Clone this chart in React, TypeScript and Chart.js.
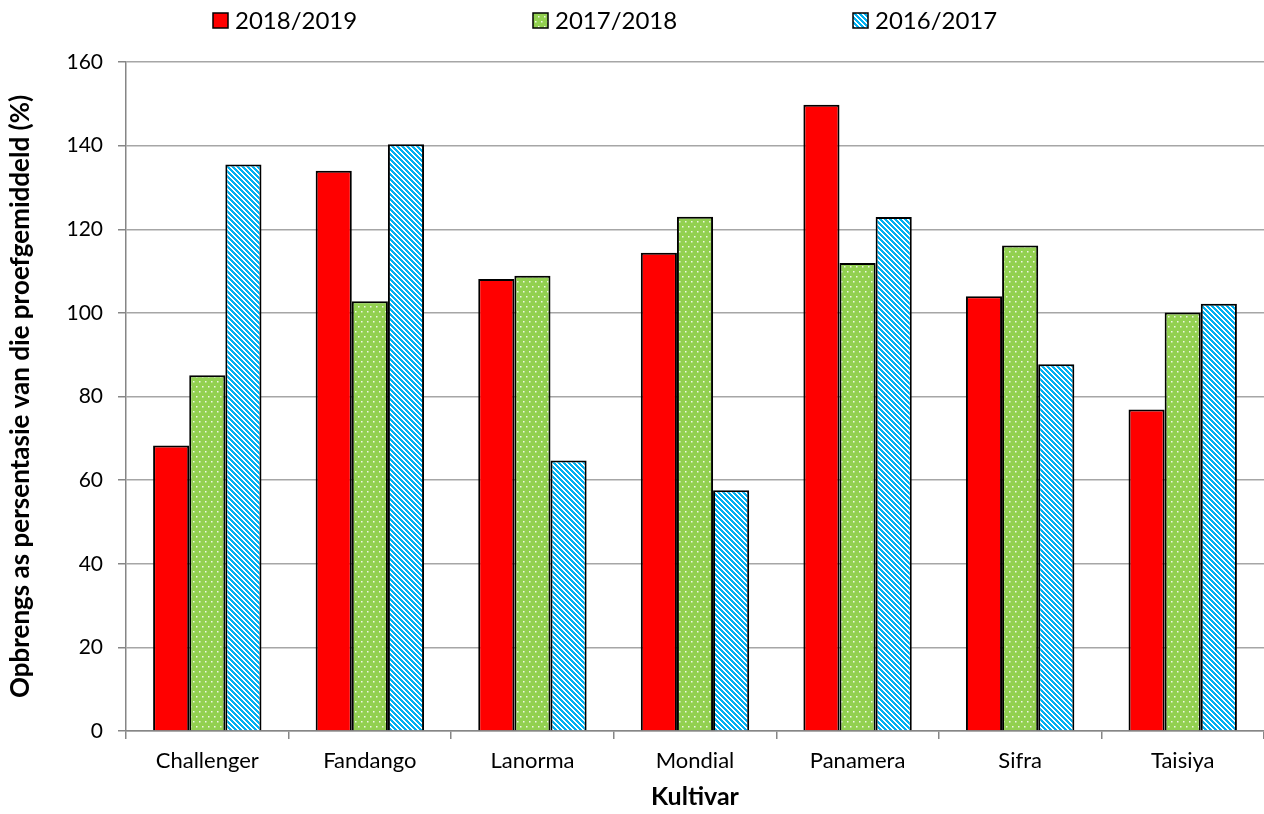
import React, { useEffect, useRef } from "react";
import { Chart, registerables } from "chart.js";

Chart.register(...registerables);

// Cultivars on the x axis
const cultivars = ["Challenger", "Fandango", "Lanorma", "Mondial", "Panamera", "Sifra", "Taisiya"];

// Yield as percentage of the trial mean, per season
const season1819 = [68.3, 134.0, 108.1, 114.4, 149.8, 104.0, 76.9];
const season1718 = [85.1, 102.8, 108.9, 123.0, 111.9, 116.1, 100.1];
const season1617 = [135.5, 140.3, 64.7, 57.6, 122.9, 87.7, 102.2];

const seasonLabels = ["2018/2019", "2017/2018", "2016/2017"];

const yTicks = [0, 20, 40, 60, 80, 100, 120, 140, 160];

const FONT = "Lato, 'Noto Sans', sans-serif";

function makeDotPattern(ctx: CanvasRenderingContext2D): CanvasPattern | string {
  const c = document.createElement("canvas");
  c.width = 6;
  c.height = 10;
  const g = c.getContext("2d");
  if (!g) return "#92D050";
  g.fillStyle = "#92D050";
  g.fillRect(0, 0, 6, 10);
  g.fillStyle = "rgba(255,255,255,0.85)";
  g.fillRect(1, 1, 1.5, 1.5);
  g.fillRect(4, 6, 1.5, 1.5);
  return ctx.createPattern(c, "repeat") || "#92D050";
}

function makeStripePattern(ctx: CanvasRenderingContext2D): CanvasPattern | string {
  const n = 5;
  const c = document.createElement("canvas");
  c.width = n;
  c.height = n;
  const g = c.getContext("2d");
  if (!g) return "#00B0F0";
  const img = g.createImageData(n, n);
  for (let y = 0; y < n; y++) {
    for (let x = 0; x < n; x++) {
      const i = (y * n + x) * 4;
      const on = (((x - y) % n) + n) % n < 3;
      img.data[i] = on ? 0 : 255;
      img.data[i + 1] = on ? 176 : 255;
      img.data[i + 2] = on ? 240 : 255;
      img.data[i + 3] = 255;
    }
  }
  g.putImageData(img, 0, 0);
  return ctx.createPattern(c, "repeat") || "#00B0F0";
}

// Legend row drawn above the plot area
const topLegend = {
  id: "topLegend",
  afterDraw(chart: any) {
    const ctx = chart.ctx as CanvasRenderingContext2D;
    const starts = [213, 533, 853];
    ctx.save();
    chart.data.datasets.forEach((ds: any, i: number) => {
      const x = starts[i];
      const y = 13;
      ctx.fillStyle = ds.backgroundColor;
      ctx.fillRect(x, y, 15, 15);
      ctx.lineWidth = 1.5;
      ctx.strokeStyle = "#000";
      ctx.strokeRect(x, y, 15, 15);
      ctx.fillStyle = "#000";
      ctx.font = `24px ${FONT}`;
      ctx.textBaseline = "middle";
      ctx.textAlign = "left";
      ctx.fillText(ds.label, x + 22, y + 8);
    });
    ctx.restore();
  },
};

export default function App() {
  const ref = useRef<HTMLCanvasElement | null>(null);

  useEffect(() => {
    document.body.style.margin = "0";
    const canvas = ref.current;
    if (!canvas) return;
    const ctx = canvas.getContext("2d");
    if (!ctx) return;

    const fills = ["#FF0000", makeDotPattern(ctx), makeStripePattern(ctx)];
    const series = [season1819, season1718, season1617];

    const chart = new Chart(ctx, {
      type: "bar",
      data: {
        labels: cultivars,
        datasets: series.map((values, i) => ({
          label: seasonLabels[i],
          data: values,
          backgroundColor: fills[i] as any,
          borderColor: "#000000",
          borderWidth: 2,
          barPercentage: 1,
          categoryPercentage: 2 / 3,
        })),
      },
      options: {
        responsive: false,
        animation: false,
        devicePixelRatio: 1,
        layout: { padding: { top: 62, left: 0, right: 0, bottom: 0 } },
        plugins: {
          legend: { display: false },
          tooltip: { enabled: false },
        },
        scales: {
          x: {
            afterFit: (scale: any) => {
              scale.height = 83;
            },
            grid: {
              display: true,
              drawOnChartArea: false,
              drawTicks: true,
              tickLength: 8,
              color: "#868686",
              lineWidth: 1.5,
              offset: true,
            },
            border: { color: "#868686", width: 1.5 },
            ticks: {
              color: "#000",
              padding: 9,
              font: { family: FONT, size: 22 },
            },
            title: {
              display: true,
              text: "Kultivar",
              color: "#000",
              font: { family: FONT, size: 25, weight: "bold" },
              padding: { top: 0, bottom: 2 },
            },
          },
          y: {
            min: 0,
            max: 160,
            afterFit: (scale: any) => {
              scale.width = 126;
            },
            afterBuildTicks: (scale: any) => {
              scale.ticks = yTicks.map((v) => ({ value: v }));
            },
            grid: {
              color: "#A6A6A6",
              lineWidth: 1.5,
              drawTicks: true,
              tickLength: 8,
              tickColor: "#868686",
            },
            border: { color: "#868686", width: 1.5 },
            ticks: {
              color: "#000",
              padding: 15,
              font: { family: FONT, size: 21 },
            },
            title: {
              display: true,
              text: "Opbrengs as persentasie van die proefgemiddeld (%)",
              color: "#000",
              font: { family: FONT, size: 26, weight: "bold" },
              padding: { top: 5, bottom: 0 },
            },
          },
        },
      },
      plugins: [topLegend],
    });

    return () => {
      chart.destroy();
    };
  }, []);

  return (
    <div style={{ position: "absolute", left: 0, top: 0, width: 1264, height: 814 }}>
      <canvas ref={ref} width={1264} height={814} style={{ display: "block" }} />
    </div>
  );
}
